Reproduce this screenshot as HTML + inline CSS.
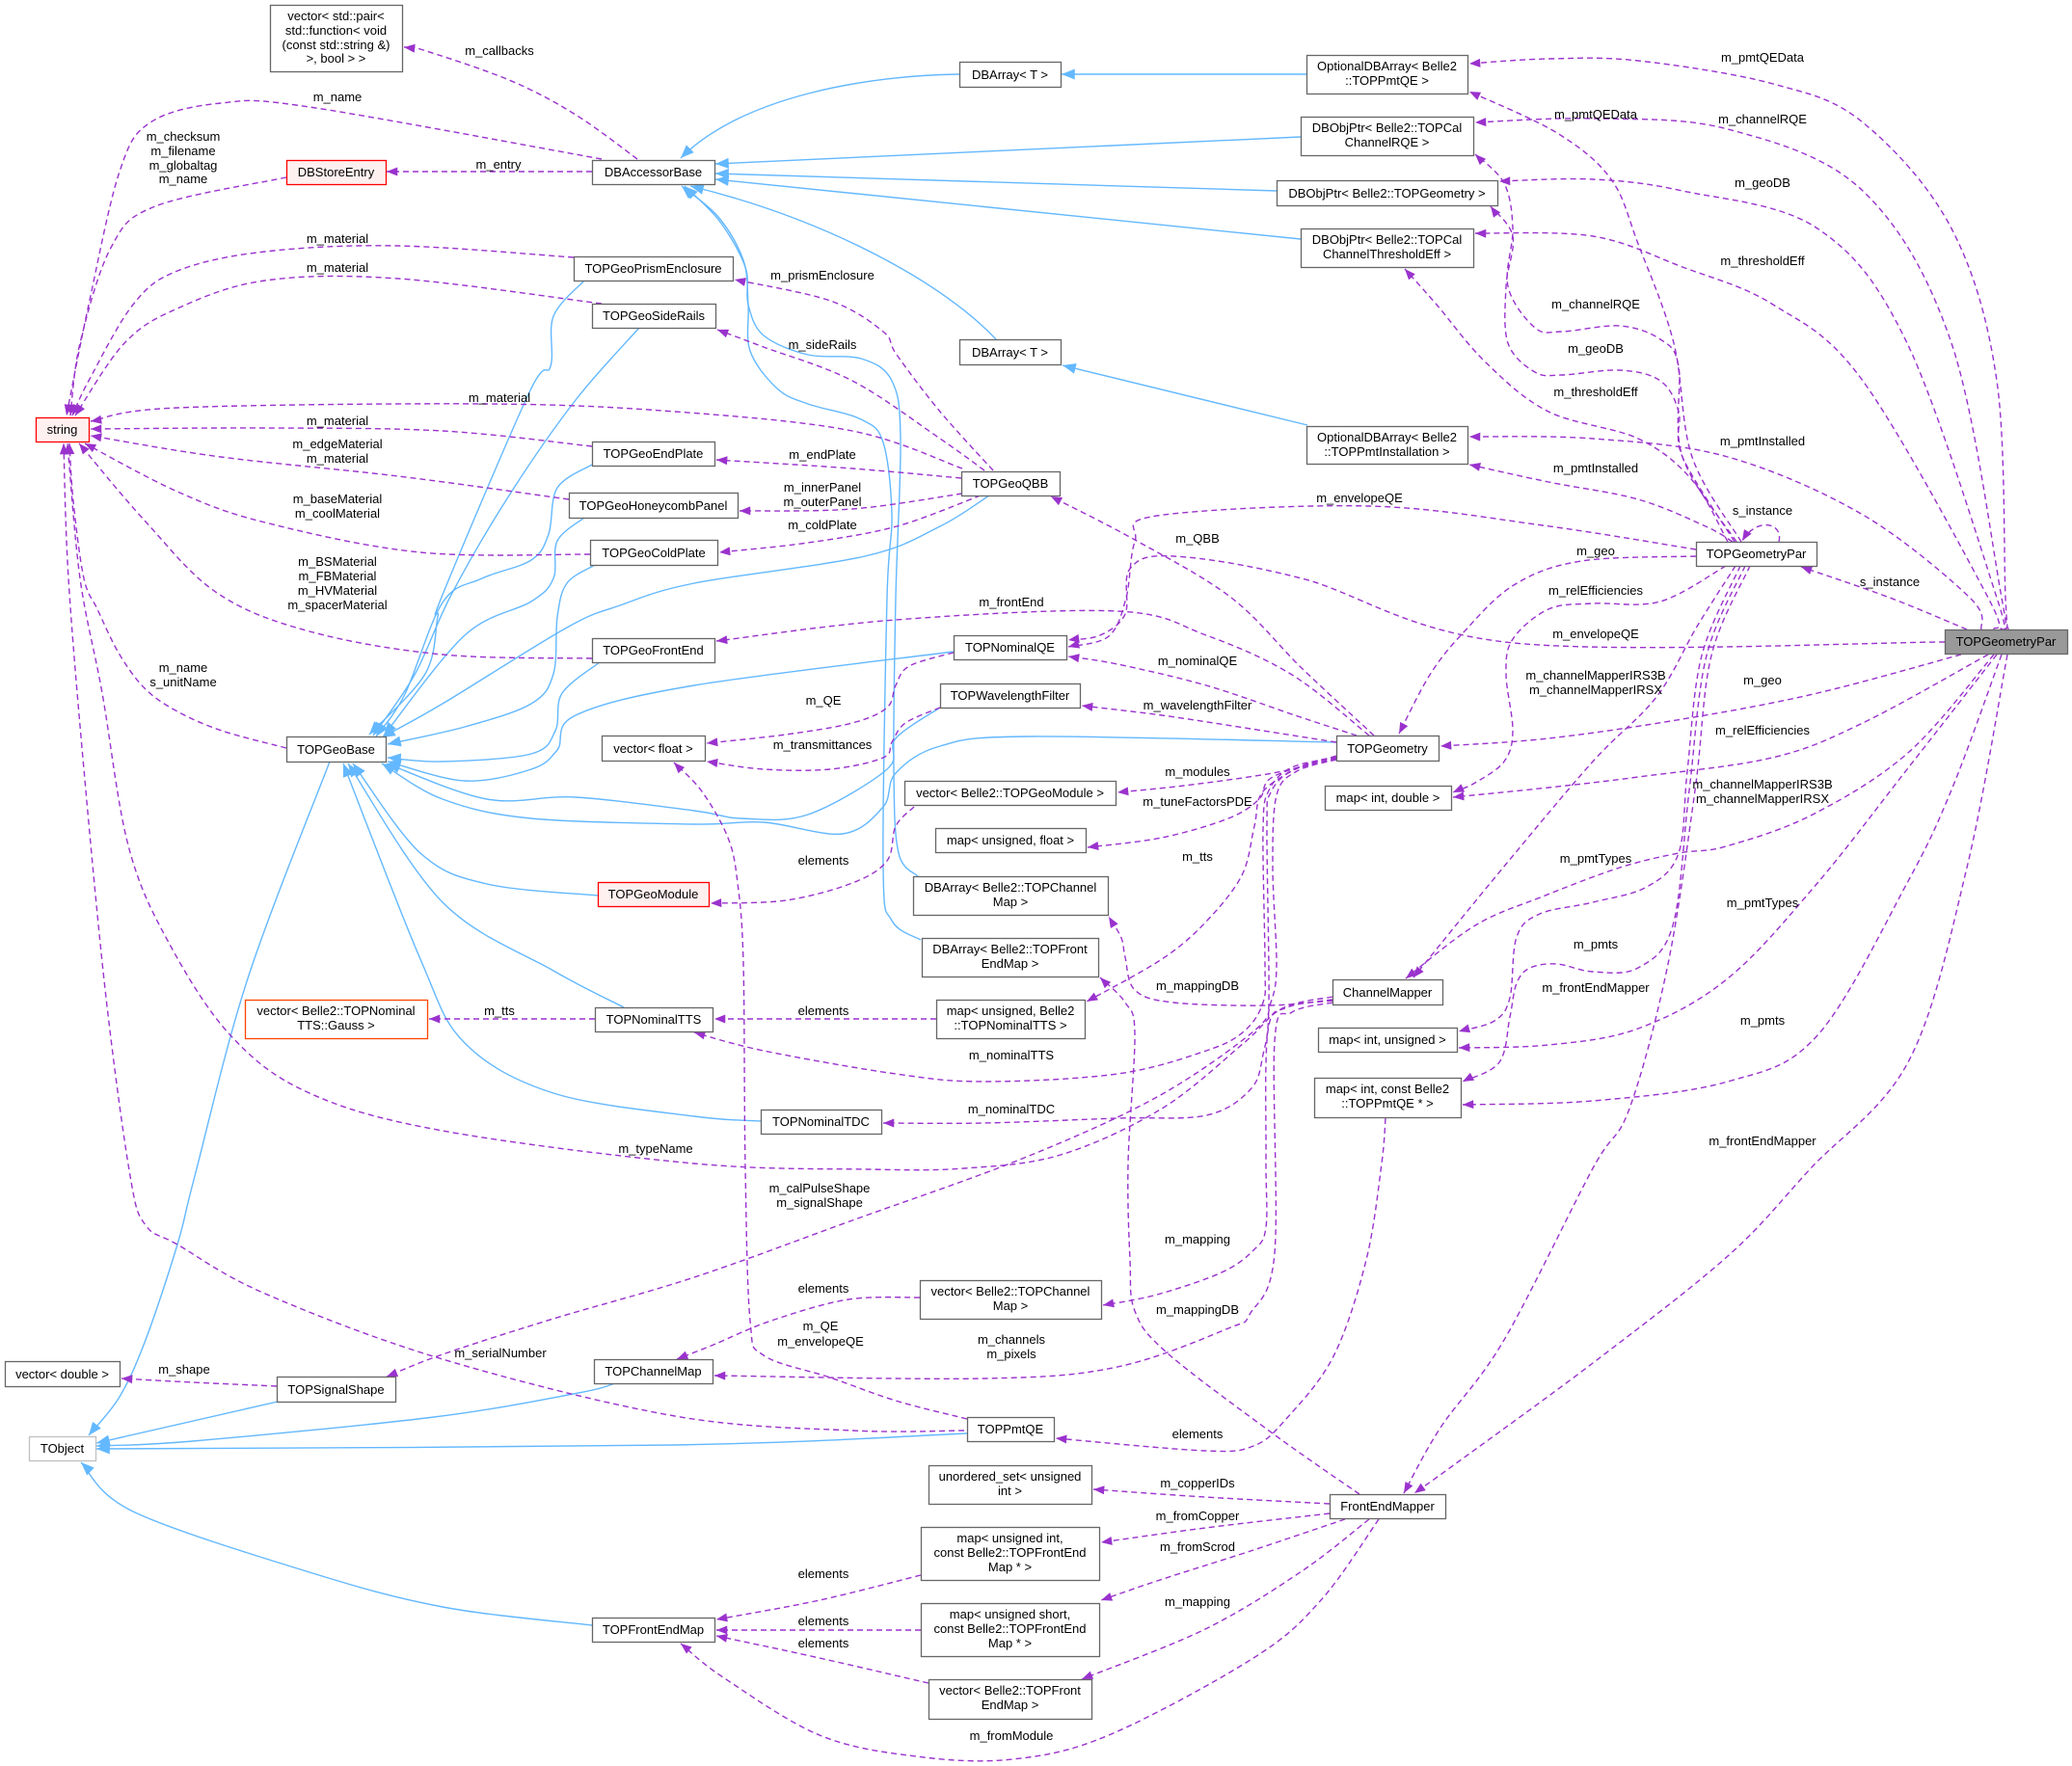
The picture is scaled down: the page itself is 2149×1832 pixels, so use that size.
<!DOCTYPE html>
<html><head><meta charset="utf-8"><style>
html,body{margin:0;padding:0;background:#fff;}
svg{display:block;}
text{font-family:"Liberation Sans",Arial,sans-serif;font-size:13px;fill:#000;text-anchor:middle;}
.p{fill:none;stroke:#9a32cd;stroke-width:1.4;stroke-dasharray:6,4;marker-end:url(#pa);stroke-linejoin:round;}
.b{fill:none;stroke:#63b8ff;stroke-width:1.4;marker-end:url(#ba);stroke-linejoin:round;}
.n{fill:#fff;stroke:#666;stroke-width:1.3;}
.r{fill:#fff0f0;stroke:#ff0000;stroke-width:1.3;}
.o{fill:#fff;stroke:#ff4500;stroke-width:1.3;}
.g{fill:#fff;stroke:#bfbfbf;stroke-width:1.3;}
.f{fill:#999;stroke:#666;stroke-width:1.3;}
</style></head><body>
<svg width="2149" height="1832" viewBox="0 0 2149 1832" xmlns="http://www.w3.org/2000/svg">
<defs>
<marker id="pa" viewBox="0 0 10 8" refX="10" refY="4" markerWidth="12" markerHeight="9" markerUnits="userSpaceOnUse" orient="auto"><path d="M0,0L10,4L0,8z" fill="#9a32cd"/></marker>
<marker id="ba" viewBox="0 0 10 8" refX="10" refY="4" markerWidth="14" markerHeight="11" markerUnits="userSpaceOnUse" orient="auto"><path d="M0,0L10,4L0,8z" fill="#63b8ff"/></marker>
</defs>
<rect width="2149" height="1832" fill="#fff"/>

<!-- blue inheritance edges -->
<path class="b" d="M995,77 C900,78 770,100 706,164"/>
<path class="b" d="M1355,77 L1101,77"/>
<path class="b" d="M1349,142 L742,170"/>
<path class="b" d="M1324,198 L742,180"/>
<path class="b" d="M1349,248 L742,186"/>
<path class="b" d="M1033,352 C980,295 860,228 716,193"/>
<path class="b" d="M1356,441 L1102,379"/>
<path class="b" d="M952,909 L932,885 L927,800 L929,620 L934,455 L925,395 L893,372 L838,368 L792,348 L776,316 L773,277 L746,229 L710,193"/>
<path class="b" d="M955,975 L925,955 L916,900 L920,620 L925,534 L916,459 L893,435 L838,419 L806,403 L778,364 L776,316 L771,270 L745,225 L707,193"/>
<path class="b" d="M606,291 L574,328 L571,380 L549,407 L459,617 L454,640 L441,699 L383,762"/>
<path class="b" d="M663,340 L597,415 L528,514 L468,617 L430,700 L387,763"/>
<path class="b" d="M614,482 L578,506 L569,554 L551,581 L500,600 L459,625 L420,720 L390,764"/>
<path class="b" d="M606,537 L578,561 L574,600 L551,624 L482,659 L398,763"/>
<path class="b" d="M617,586 L588,605 L578,640 L574,699 L551,730 L482,754 L402,772"/>
<path class="b" d="M622,687 L583,719 L576,758 L551,782 L459,790 L402,786"/>
<path class="b" d="M1026,514 L975,546 L897,577 L720,605 L643,628 L588,651 L459,730 L396,765"/>
<path class="b" d="M989,676 L720,711 L597,742 L578,778 L551,798 L482,810 L402,790"/>
<path class="b" d="M975,734 L929,766 L920,798 L838,845 L769,849 L720,841 L597,827 L505,829 L401,792"/>
<path class="b" d="M1386,770 L1067,764 L975,774 L929,802 L916,837 L874,865 L792,853 L720,855 L551,849 L459,829 L396,792"/>
<path class="b" d="M620,929 L505,917 L436,885 L366,792"/>
<path class="b" d="M647,1045 L574,1007 L459,936 L361,792"/>
<path class="b" d="M789,1163 L720,1158 L574,1134 L482,1082 L436,995 L356,792"/>
<path class="b" d="M342,790 L257,1015 L202,1220 L184,1291 L151,1390 L124,1449 L92,1489"/>
<path class="b" d="M288,1454 L100,1497"/>
<path class="b" d="M638,1435 L600,1445 L450,1470 L200,1495 L100,1500"/>
<path class="b" d="M1003,1487 L700,1499 L100,1503"/>
<path class="b" d="M614,1686 L459,1667 L321,1631 L138,1568 L84,1517"/>

<!-- purple member edges -->
<path class="p" d="M661,165 L597,119 L528,83 L436,51 L419,49"/>
<path class="p" d="M624,165 L321,111 L229,107 L156,127 L124,178 L92,316 L69,431"/>
<path class="p" d="M614,178 L401,178"/>
<path class="p" d="M297,184 L161,214 L115,257 L83,356 L73,431"/>
<path class="p" d="M595,267 L413,255 L275,261 L184,281 L138,316 L92,395 L75,431"/>
<path class="p" d="M624,315 L413,289 L275,291 L184,320 L129,356 L78,431"/>
<path class="p" d="M998,486 L884,447 L700,427 L505,419 L184,423 L94,437"/>
<path class="p" d="M614,463 L459,447 L275,444 L94,445"/>
<path class="p" d="M590,518 L413,494 L229,474 L94,452"/>
<path class="p" d="M612,575 L436,573 L275,542 L184,510 L88,460"/>
<path class="p" d="M614,683 L459,679 L321,655 L225,615 L150,540 L82,460"/>
<path class="p" d="M297,776 L230,758 L184,738 L151,715 L124,679 L101,632 L87,600 L76,520 L72,460"/>
<!-- TOPGeoQBB members -->
<path class="p" d="M1030,488 L975,427 L930,368 L916,344 L861,312 L762,290"/>
<path class="p" d="M1021,488 L975,455 L884,395 L792,360 L744,342"/>
<path class="p" d="M997,496 L884,486 L743,477"/>
<path class="p" d="M998,512 L884,528 L767,530"/>
<path class="p" d="M1017,514 L930,546 L838,563 L746,573"/>
<!-- m_shape -->
<path class="p" d="M287,1438 L200,1434 L126,1430"/>
<!-- m_typeName -->
<path class="p" d="M1382,1034 L1330,1046 L1290,1082 L1205,1150 L1100,1198 L1000,1212 L900,1213 L720,1207 L459,1173 L321,1134 L239,1074 L174,976 L133,877 L106,719 L83,600 L70,460"/>
<path class="p" d="M1000,1484 L884,1484 L700,1469 L459,1410 L275,1342 L184,1291 L151,1271 L135,1220 L110,1035 L87,798 L71,600 L66,460"/>
<path class="p" d="M1003,1472 L929,1453 L861,1429 L792,1406 L778,1370 L773,1212 L771,1000 L765,916 L755,869 L728,821 L699,791"/>
<path class="p" d="M989,677 L943,691 L929,711 L920,734 L884,750 L815,762 L733,771"/>
<path class="p" d="M975,734 L939,750 L925,770 L916,786 L861,798 L792,798 L733,790"/>
<path class="p" d="M948,837 L929,857 L920,893 L884,916 L815,934 L737,937"/>
<path class="p" d="M971,1057 L741,1057"/>
<path class="p" d="M617,1057 L445,1057"/>
<path class="p" d="M1386,786 L1340,796 L1316,820 L1310,860 L1312,1000 L1310,1040 L1290,1070 L1251,1090 L1159,1114 L1021,1122 L929,1114 L792,1090 L720,1071"/>
<path class="p" d="M1386,787 L1342,798 L1318,822 L1314,860 L1316,1040 L1310,1094 L1297,1130 L1251,1157 L1159,1160 L1021,1165 L916,1165"/>
<path class="p" d="M1386,785 L1352,794 L1310,821 L1301,857 L1288,908 L1251,956 L1205,995 L1127,1039"/>
<path class="p" d="M1386,784 L1320,806 L1306,829 L1274,849 L1205,869 L1128,879"/>
<path class="p" d="M1386,787 L1320,802 L1228,815 L1159,822"/>
<path class="p" d="M1386,770 L1297,756 L1205,742 L1122,732"/>
<path class="p" d="M1407,763 L1343,742 L1251,711 L1159,689 L1108,681"/>
<path class="p" d="M1420,763 L1340,700 L1251,659 L1159,634 L929,643 L743,665"/>
<path class="p" d="M1425,763 L1350,693 L1277,620 L1177,560 L1090,515"/>
<path class="p" d="M2017,666 L1570,667 L1350,600 L1217,577 L1172,590 L1167,637 L1141,659 L1108,664"/>
<path class="p" d="M1759,570 L1600,545 L1420,525 L1200,535 L1177,562 L1168,620 L1150,660 L1108,671"/>
<path class="p" d="M1759,577 L1640,582 L1570,607 L1517,657 L1483,700 L1451,761"/>
<path class="p" d="M1790,587 L1722,624 L1652,626 L1606,632 L1569,663 L1562,699 L1569,758 L1560,790 L1530,812 L1507,822"/>
<path class="p" d="M1800,587 L1760,650 L1718,723 L1652,790 L1559,900 L1466,1014"/>
<path class="p" d="M1805,587 L1765,680 L1750,800 L1741,885 L1708,920 L1652,936 L1597,948 L1573,972 L1566,1035 L1550,1059 L1513,1070"/>
<path class="p" d="M1810,587 L1770,680 L1752,820 L1735,960 L1699,1004 L1652,1008 L1615,1000 L1587,1004 L1573,1020 L1566,1055 L1555,1102 L1517,1122"/>
<path class="p" d="M1815,587 L1775,680 L1758,820 L1730,1000 L1690,1150 L1652,1212 L1560,1390 L1494,1481 L1456,1549"/>
<path class="p" d="M2034,679 L1885,719 L1745,746 L1606,766 L1494,774"/>
<path class="p" d="M2062,679 L1932,750 L1838,786 L1699,806 L1606,817 L1507,827"/>
<path class="p" d="M2068,679 L1980,780 L1880,845 L1790,878 L1741,885 L1680,900 L1600,930 L1530,960 L1458,1015"/>
<path class="p" d="M2071,679 L1978,798 L1885,916 L1792,1015 L1699,1067 L1606,1084 L1513,1087"/>
<path class="p" d="M2076,679 L2025,817 L1978,916 L1885,1074 L1792,1122 L1652,1142 L1517,1146"/>
<path class="p" d="M2082,679 L2040,900 L1980,1100 L1878,1212 L1792,1303 L1652,1414 L1513,1516 L1467,1549"/>
<path class="p" d="M2040,653 L1960,620 L1868,588"/>
<path class="p" d="M2083,653 L2080,620 L2071,395 L2024,237 L1932,127 L1839,87 L1699,63 L1606,61 L1524,66"/>
<path class="p" d="M2079,653 L2076,620 L2024,356 L1932,198 L1792,134 L1652,123 L1530,127"/>
<path class="p" d="M2075,653 L2071,620 L1978,356 L1885,237 L1745,198 L1652,186 L1555,188"/>
<path class="p" d="M2068,653 L2062,620 L1932,395 L1839,316 L1745,277 L1652,245 L1530,242"/>
<path class="p" d="M2055,653 L2043,620 L1932,534 L1792,474 L1652,455 L1524,453"/>
<path class="p" d="M1806,562 L1755,474 L1736,356 L1699,253 L1671,186 L1615,138 L1524,95"/>
<path class="p" d="M1801,562 L1745,474 L1741,380 L1722,352 L1680,338 L1620,344 L1592,340 L1564,297 L1569,237 L1560,190 L1530,160"/>
<path class="p" d="M1799,562 L1745,474 L1741,427 L1722,395 L1680,384 L1620,389 L1592,386 L1564,356 L1562,297 L1569,245 L1546,214"/>
<path class="p" d="M1792,562 L1755,498 L1699,455 L1606,427 L1541,376 L1490,316 L1457,279"/>
<path class="p" d="M1797,562 L1769,546 L1699,518 L1606,500 L1524,482"/>
<path class="p" d="M1845,562 C1850,542 1822,536 1807,561"/>
<path class="p" d="M1382,1037 L1317,1043 L1217,1040 L1177,1027 L1167,993 L1163,973 L1150,951"/>
<path class="p" d="M1382,1038 L1335,1045 L1315,1070 L1313,1200 L1313,1273 L1300,1297 L1267,1320 L1200,1343 L1144,1354"/>
<path class="p" d="M1382,1040 L1340,1050 L1322,1080 L1322,1300 L1297,1362 L1274,1378 L1159,1418 L1021,1430 L741,1427"/>
<path class="p" d="M1437,1160 L1433,1207 L1417,1307 L1383,1407 L1333,1473 L1300,1500 L1250,1505 L1095,1492"/>
<path class="p" d="M1410,1550 L1320,1487 L1210,1403 L1177,1360 L1172,1307 L1170,1207 L1177,1073 L1167,1040 L1141,1014"/>
<path class="p" d="M1379,1560 L1250,1553 L1134,1545"/>
<path class="p" d="M1379,1570 L1250,1585 L1142,1600"/>
<path class="p" d="M1395,1576 L1300,1608 L1200,1640 L1142,1660"/>
<path class="p" d="M1420,1576 L1350,1630 L1250,1690 L1122,1742"/>
<path class="p" d="M1430,1576 L1370,1660 L1300,1720 L1150,1800 L1050,1825 L950,1822 L850,1800 L750,1740 L706,1705"/>
<path class="p" d="M955,1634 L850,1660 L743,1680"/>
<path class="p" d="M955,1691 L743,1691"/>
<path class="p" d="M963,1746 L850,1720 L743,1697"/>
<path class="p" d="M954,1346 L880,1348 L800,1370 L740,1395 L702,1410"/>
<!-- m_calPulseShape / m_signalShape -->
<path class="p" d="M1386,788 L1345,800 L1324,825 L1320,900 L1324,1000 L1318,1040 L1300,1070 L1200,1138 L1060,1202 L884,1266 L720,1325 L574,1368 L459,1405 L401,1428"/>

<!-- edge labels -->
<text x="518" y="57">m_callbacks</text>
<text x="350" y="105">m_name</text>
<text x="517" y="175">m_entry</text>
<text x="190" y="146">m_checksum</text>
<text x="190" y="161">m_filename</text>
<text x="190" y="176">m_globaltag</text>
<text x="190" y="190">m_name</text>
<text x="350" y="252">m_material</text>
<text x="350" y="282">m_material</text>
<text x="518" y="417">m_material</text>
<text x="350" y="441">m_material</text>
<text x="350" y="465">m_edgeMaterial</text>
<text x="350" y="480">m_material</text>
<text x="350" y="522">m_baseMaterial</text>
<text x="350" y="537">m_coolMaterial</text>
<text x="350" y="587">m_BSMaterial</text>
<text x="350" y="602">m_FBMaterial</text>
<text x="350" y="617">m_HVMaterial</text>
<text x="350" y="632">m_spacerMaterial</text>
<text x="190" y="697">m_name</text>
<text x="190" y="712">s_unitName</text>
<text x="680" y="1196">m_typeName</text>
<text x="519" y="1408">m_serialNumber</text>
<text x="851" y="1380">m_QE</text>
<text x="851" y="1396">m_envelopeQE</text>
<text x="854" y="731">m_QE</text>
<text x="853" y="777">m_transmittances</text>
<text x="854" y="897">elements</text>
<text x="854" y="1053">elements</text>
<text x="518" y="1053">m_tts</text>
<text x="1049" y="1099">m_nominalTTS</text>
<text x="1049" y="1155">m_nominalTDC</text>
<text x="1242" y="893">m_tts</text>
<text x="1242" y="836">m_tuneFactorsPDE</text>
<text x="1242" y="805">m_modules</text>
<text x="1242" y="736">m_wavelengthFilter</text>
<text x="1242" y="690">m_nominalQE</text>
<text x="1049" y="629">m_frontEnd</text>
<text x="1242" y="563">m_QBB</text>
<text x="853" y="290">m_prismEnclosure</text>
<text x="853" y="362">m_sideRails</text>
<text x="853" y="476">m_endPlate</text>
<text x="853" y="510">m_innerPanel</text>
<text x="853" y="525">m_outerPanel</text>
<text x="853" y="549">m_coldPlate</text>
<text x="1655" y="662">m_envelopeQE</text>
<text x="1410" y="521">m_envelopeQE</text>
<text x="1655" y="576">m_geo</text>
<text x="1655" y="617">m_relEfficiencies</text>
<text x="1655" y="705">m_channelMapperIRS3B</text>
<text x="1655" y="720">m_channelMapperIRSX</text>
<text x="1655" y="895">m_pmtTypes</text>
<text x="1655" y="984">m_pmts</text>
<text x="1655" y="1029">m_frontEndMapper</text>
<text x="1828" y="710">m_geo</text>
<text x="1828" y="762">m_relEfficiencies</text>
<text x="1828" y="818">m_channelMapperIRS3B</text>
<text x="1828" y="833">m_channelMapperIRSX</text>
<text x="1828" y="941">m_pmtTypes</text>
<text x="1828" y="1063">m_pmts</text>
<text x="1828" y="1188">m_frontEndMapper</text>
<text x="1960" y="608">s_instance</text>
<text x="1828" y="64">m_pmtQEData</text>
<text x="1828" y="128">m_channelRQE</text>
<text x="1828" y="194">m_geoDB</text>
<text x="1828" y="275">m_thresholdEff</text>
<text x="1828" y="462">m_pmtInstalled</text>
<text x="1655" y="123">m_pmtQEData</text>
<text x="1655" y="320">m_channelRQE</text>
<text x="1655" y="366">m_geoDB</text>
<text x="1655" y="411">m_thresholdEff</text>
<text x="1655" y="490">m_pmtInstalled</text>
<text x="1828" y="534">s_instance</text>
<text x="1242" y="1027">m_mappingDB</text>
<text x="1242" y="1290">m_mapping</text>
<text x="1049" y="1394">m_channels</text>
<text x="1049" y="1409">m_pixels</text>
<text x="1242" y="1492">elements</text>
<text x="1242" y="1363">m_mappingDB</text>
<text x="1242" y="1543">m_copperIDs</text>
<text x="1242" y="1577">m_fromCopper</text>
<text x="1242" y="1609">m_fromScrod</text>
<text x="1242" y="1666">m_mapping</text>
<text x="1049" y="1805">m_fromModule</text>
<text x="854" y="1637">elements</text>
<text x="854" y="1686">elements</text>
<text x="854" y="1709">elements</text>
<text x="854" y="1341">elements</text>
<text x="850" y="1237">m_calPulseShape</text>
<text x="850" y="1252">m_signalShape</text>
<text x="191" y="1425">m_shape</text>

<!-- nodes -->
<rect class="n" x="280.5" y="5.5" width="137" height="69"/>
<text x="348.5" y="21">vector&lt; std::pair&lt;</text>
<text x="348.5" y="36">std::function&lt; void</text>
<text x="348.5" y="51">(const std::string &amp;)</text>
<text x="348.5" y="65">&gt;, bool &gt; &gt;</text>

<rect class="r" x="297.5" y="166.5" width="103" height="25"/><text x="348.5" y="183">DBStoreEntry</text>
<rect class="n" x="614.5" y="166.5" width="127" height="25"/><text x="677.5" y="183">DBAccessorBase</text>
<rect class="r" x="37.5" y="433.5" width="55" height="25"/><text x="64.5" y="450">string</text>
<rect class="n" x="595.5" y="266.5" width="165" height="25"/><text x="677.5" y="283">TOPGeoPrismEnclosure</text>
<rect class="n" x="614.5" y="315.5" width="128" height="25"/><text x="678" y="332">TOPGeoSideRails</text>
<rect class="n" x="614.5" y="458.5" width="127" height="25"/><text x="677.5" y="475">TOPGeoEndPlate</text>
<rect class="n" x="590.5" y="511.5" width="175" height="26"/><text x="677.5" y="529">TOPGeoHoneycombPanel</text>
<rect class="n" x="612.5" y="560.5" width="132" height="26"/><text x="678" y="578">TOPGeoColdPlate</text>
<rect class="n" x="614.5" y="662.5" width="127" height="25"/><text x="677.5" y="679">TOPGeoFrontEnd</text>
<rect class="n" x="297.5" y="764.5" width="103" height="26"/><text x="348.5" y="782">TOPGeoBase</text>
<rect class="n" x="624.5" y="763.5" width="107" height="26"/><text x="677.5" y="781">vector&lt; float &gt;</text>
<rect class="r" x="620.5" y="915.5" width="115" height="25"/><text x="677.5" y="932">TOPGeoModule</text>
<rect class="o" x="254.5" y="1037.5" width="189" height="40"/><text x="348.5" y="1053">vector&lt; Belle2::TOPNominal</text><text x="348.5" y="1068">TTS::Gauss &gt;</text>
<rect class="n" x="617.5" y="1045.5" width="122" height="25"/><text x="678" y="1062">TOPNominalTTS</text>
<rect class="n" x="789.5" y="1151.5" width="125" height="25"/><text x="851.5" y="1168">TOPNominalTDC</text>
<rect class="n" x="5.5" y="1412.5" width="119" height="26"/><text x="64.5" y="1430">vector&lt; double &gt;</text>
<rect class="n" x="287.5" y="1428.5" width="123" height="26"/><text x="348.5" y="1446">TOPSignalShape</text>
<rect class="g" x="30.5" y="1490.5" width="69" height="25"/><text x="64.5" y="1507">TObject</text>
<rect class="n" x="616.5" y="1410.5" width="123" height="25"/><text x="677.5" y="1427">TOPChannelMap</text>
<rect class="n" x="614.5" y="1678.5" width="127" height="25"/><text x="677.5" y="1695">TOPFrontEndMap</text>

<rect class="n" x="995.5" y="64.5" width="105" height="26"/><text x="1047.5" y="82">DBArray&lt; T &gt;</text>
<rect class="n" x="995.5" y="352.5" width="105" height="26"/><text x="1047.5" y="370">DBArray&lt; T &gt;</text>
<rect class="n" x="997.5" y="489.5" width="102" height="25"/><text x="1048" y="506">TOPGeoQBB</text>
<rect class="n" x="989.5" y="659.5" width="117" height="25"/><text x="1047.5" y="676">TOPNominalQE</text>
<rect class="n" x="975.5" y="709.5" width="145" height="25"/><text x="1047.5" y="726">TOPWavelengthFilter</text>
<rect class="n" x="938.5" y="810.5" width="219" height="25"/><text x="1047.5" y="827">vector&lt; Belle2::TOPGeoModule &gt;</text>
<rect class="n" x="970.5" y="859.5" width="156" height="25"/><text x="1048" y="876">map&lt; unsigned, float &gt;</text>
<rect class="n" x="947.5" y="909.5" width="202" height="40"/><text x="1048" y="925">DBArray&lt; Belle2::TOPChannel</text><text x="1048" y="940">Map &gt;</text>
<rect class="n" x="956.5" y="973.5" width="183" height="40"/><text x="1047.5" y="989">DBArray&lt; Belle2::TOPFront</text><text x="1047.5" y="1004">EndMap &gt;</text>
<rect class="n" x="971.5" y="1037.5" width="154" height="40"/><text x="1048" y="1053">map&lt; unsigned, Belle2</text><text x="1048" y="1068">::TOPNominalTTS &gt;</text>
<rect class="n" x="954.5" y="1328.5" width="188" height="40"/><text x="1048" y="1344">vector&lt; Belle2::TOPChannel</text><text x="1048" y="1359">Map &gt;</text>
<rect class="n" x="1003.5" y="1470.5" width="90" height="25"/><text x="1048" y="1487">TOPPmtQE</text>
<rect class="n" x="963.5" y="1520.5" width="169" height="40"/><text x="1047.5" y="1536">unordered_set&lt; unsigned</text><text x="1047.5" y="1551">int &gt;</text>
<rect class="n" x="955.5" y="1584.5" width="185" height="55"/><text x="1047.5" y="1600">map&lt; unsigned int,</text><text x="1047.5" y="1615">const Belle2::TOPFrontEnd</text><text x="1047.5" y="1630">Map * &gt;</text>
<rect class="n" x="955.5" y="1663.5" width="185" height="55"/><text x="1047.5" y="1679">map&lt; unsigned short,</text><text x="1047.5" y="1694">const Belle2::TOPFrontEnd</text><text x="1047.5" y="1709">Map * &gt;</text>
<rect class="n" x="963.5" y="1742.5" width="169" height="41"/><text x="1047.5" y="1758">vector&lt; Belle2::TOPFront</text><text x="1047.5" y="1773">EndMap &gt;</text>

<rect class="n" x="1355.5" y="57.5" width="167" height="40"/><text x="1438.5" y="73">OptionalDBArray&lt; Belle2</text><text x="1438.5" y="88">::TOPPmtQE &gt;</text>
<rect class="n" x="1349.5" y="121.5" width="179" height="40"/><text x="1438.5" y="137">DBObjPtr&lt; Belle2::TOPCal</text><text x="1438.5" y="152">ChannelRQE &gt;</text>
<rect class="n" x="1324.5" y="187.5" width="229" height="26"/><text x="1438.5" y="205">DBObjPtr&lt; Belle2::TOPGeometry &gt;</text>
<rect class="n" x="1349.5" y="237.5" width="179" height="40"/><text x="1438.5" y="253">DBObjPtr&lt; Belle2::TOPCal</text><text x="1438.5" y="268">ChannelThresholdEff &gt;</text>
<rect class="n" x="1355.5" y="442.5" width="167" height="39"/><text x="1438.5" y="458">OptionalDBArray&lt; Belle2</text><text x="1438.5" y="473">::TOPPmtInstallation &gt;</text>
<rect class="n" x="1759.5" y="562.5" width="125" height="25"/><text x="1821.5" y="579">TOPGeometryPar</text>
<rect class="n" x="1386.5" y="763.5" width="106" height="26"/><text x="1439" y="781">TOPGeometry</text>
<rect class="n" x="1374.5" y="815.5" width="131" height="25"/><text x="1439.5" y="832">map&lt; int, double &gt;</text>
<rect class="n" x="1382.5" y="1016.5" width="114" height="26"/><text x="1439" y="1034">ChannelMapper</text>
<rect class="n" x="1367.5" y="1066.5" width="144" height="25"/><text x="1439" y="1083">map&lt; int, unsigned &gt;</text>
<rect class="n" x="1363.5" y="1118.5" width="152" height="41"/><text x="1439" y="1134">map&lt; int, const Belle2</text><text x="1439" y="1149">::TOPPmtQE * &gt;</text>
<rect class="n" x="1379.5" y="1550.5" width="120" height="25"/><text x="1439" y="1567">FrontEndMapper</text>
<rect class="f" x="2017.5" y="653.5" width="127" height="25"/><text x="2080.5" y="670">TOPGeometryPar</text>
</svg>
<script>
(function(){
var ps=document.querySelectorAll('path.p,path.b');
for(var k=0;k<ps.length;k++){
var e=ps[k];var d=e.getAttribute('d');
if(/[CQSAz]/.test(d))continue;
var n=d.match(/-?[\d.]+/g);if(!n)continue;n=n.map(Number);
var P=[];for(var i=0;i+1<n.length;i+=2)P.push([n[i],n[i+1]]);
if(P.length<3)continue;
var s='M'+P[0][0]+','+P[0][1];
for(var i=0;i<P.length-1;i++){
var a=P[i-1]||P[i],b=P[i],c=P[i+1],dd=P[i+2]||c;
var c1x=b[0]+(c[0]-a[0])/6,c1y=b[1]+(c[1]-a[1])/6;
var c2x=c[0]-(dd[0]-b[0])/6,c2y=c[1]-(dd[1]-b[1])/6;
s+=' C'+c1x.toFixed(1)+','+c1y.toFixed(1)+' '+c2x.toFixed(1)+','+c2y.toFixed(1)+' '+c[0]+','+c[1];
}
e.setAttribute('d',s);
}
})();
</script>
</body></html>
